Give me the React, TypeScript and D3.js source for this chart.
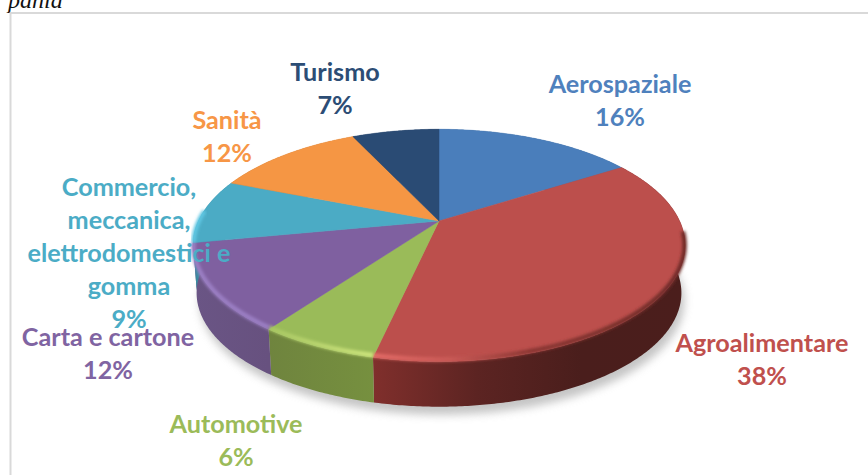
import * as d3 from "d3";

const categories = ["Aerospaziale", "Agroalimentare", "Automotive", "Carta e cartone", "Commercio", "Sanità", "Turismo"];
// slice sizes, the labels below show them rounded
const shares = [16, 37.5, 6.5, 12, 9, 12, 7];

const labelLines = [
  ["Aerospaziale", "16%"],
  ["Agroalimentare", "38%"],
  ["Automotive", "6%"],
  ["Carta e cartone", "12%"],
  ["Commercio,", "meccanica,", "elettrodomestici e", "gomma", "9%"],
  ["Sanità", "12%"],
  ["Turismo", "7%"],
];

const topColors = ["#4a7ebb", "#bc4f4c", "#9abb59", "#7f60a0", "#4babc5", "#f59644", "#2a4b74"];
const labelColors = ["#4f81bd", "#c0504d", "#9bbb59", "#8064a2", "#4bacc6", "#f79646", "#2c4d75"];
// side wall and bevel colours per slice, spread evenly over the slice's width
const wallColors = [
  ["#3a5f8c", "#3a5f8c"],
  ["#802f2c", "#5c2422", "#4a1e1c", "#4b1e1c"],
  ["#6f843e", "#76903f"],
  ["#6a5585", "#67517f"],
  ["#3a8aa0", "#3a8aa0"],
  ["#b06a2c", "#b06a2c"],
  ["#1f3a5a", "#1f3a5a"],
];
const bevelColors = [
  ["#3f6ca3", "#3f6ca3"],
  ["#e46b67", "#c95a56", "#8a3632", "#7a302c", "#6e2b28"],
  ["#a8c763", "#cfe67e"],
  ["#9b7fc4", "#9b7fc4"],
  ["#5fc6e2", "#5fc6e2"],
  ["#f59644", "#f59644"],
  ["#2a4b74", "#2a4b74"],
];

const labelAnchors = [
  [620, 93],
  [762, 352],
  [236, 433],
  [108, 346],
  [129, 196],
  [227, 129],
  [335, 81],
];

const width = 868;
const height = 475;
const cx = 439;
const cy = 221;
const radiusX = 240.6;
const radiusY = 111;
const tilt = 0.21;
const step = 0.01;

// perspective projection of a point on the pie's rim
const rimPoint = (a: number): [number, number] => {
  const u = Math.sin(a);
  const v = -Math.cos(a);
  const s = 1 / (1 - tilt * v);
  return [cx + radiusX * u * s, cy + radiusY * v * s];
};
const lowerPoint = (a: number): [number, number] => {
  const [x, y] = rimPoint(a);
  return [cx + (x - cx) * 0.985, cy + (y - cy) * 0.98 + 48];
};
// just inside the rim, where the highlight sits
const bevelPoint = (a: number): [number, number] => {
  const [x, y] = rimPoint(a);
  return [cx + (x - cx) * 0.998, cy + (y - cy) * 0.985];
};

const angles = (start: number, end: number) => [...d3.range(start, end, step), end];
const line = d3.line();

const pie = d3.pie<number>().sort(null).value((d) => d);
const slices = pie(shares);

const Gradient = ({ id, x0, x1, colors }: { id: string; x0: number; x1: number; colors: string[] }) => (
  <linearGradient id={id} gradientUnits="userSpaceOnUse" x1={x0} x2={x1} y1={0} y2={0}>
    {colors.map((c, j) => (
      <stop key={j} offset={j / (colors.length - 1)} stopColor={c} />
    ))}
  </linearGradient>
);

const App = () => (
  <svg width={width} height={height} style={{ position: "absolute", left: 0, top: 0 }}>
    <defs>
      <filter id="shadowBlur" x="-10%" y="-10%" width="120%" height="120%">
        <feGaussianBlur stdDeviation="4.5" />
      </filter>
      <filter id="bevelBlur" x="-20%" y="-20%" width="140%" height="140%">
        <feGaussianBlur stdDeviation="1.5" />
      </filter>
      {slices.map((s, i) => {
        const xs = angles(s.startAngle, s.endAngle).map((a) => rimPoint(a)[0]);
        const [x0, x1] = d3.extent(xs) as [number, number];
        return (
          <g key={categories[i]}>
            <Gradient id={`wall${i}`} x0={x0} x1={x1} colors={wallColors[i]} />
            <Gradient id={`bevel${i}`} x0={x0} x1={x1} colors={bevelColors[i]} />
          </g>
        );
      })}
    </defs>

    {/* page text cut off above the frame */}
    <text x={8} y={8} fontFamily="'Liberation Serif', serif" fontStyle="italic" fontSize={24} fill="#111">
      pania
    </text>
    <path d={`M10.5,${height}V13H${width}`} fill="none" stroke="#d9d9d9" strokeWidth={2} />

    <path
      d={line(angles(0, 2 * Math.PI).map(lowerPoint))! + "Z"}
      transform="translate(3,8)"
      fill="#a6a6a6"
      opacity={0.65}
      filter="url(#shadowBlur)"
    />

    {slices.map((s, i) => {
      const top = angles(s.startAngle, s.endAngle);
      return (
        <path
          key={categories[i]}
          d={line([...top.map(rimPoint), ...top.slice().reverse().map(lowerPoint)])! + "Z"}
          fill={`url(#wall${i})`}
        />
      );
    })}

    {slices.map((s, i) => (
      <path
        key={categories[i]}
        d={line([[cx, cy], ...angles(s.startAngle, s.endAngle).map(rimPoint)])! + "Z"}
        fill={topColors[i]}
        stroke={topColors[i]}
        strokeWidth={0.5}
      />
    ))}

    {/* soft highlight along the front rim */}
    {slices.map((s, i) => {
      const start = Math.max(s.startAngle, Math.PI * 0.53);
      const end = Math.min(s.endAngle, Math.PI * 1.53);
      if (start >= end) return null;
      return (
        <path
          key={categories[i]}
          d={line(angles(start, end).map(bevelPoint))!}
          fill="none"
          stroke={`url(#bevel${i})`}
          strokeWidth={4.5}
          filter="url(#bevelBlur)"
        />
      );
    })}

    {labelLines.map((lines, i) => (
      <text
        key={categories[i]}
        x={labelAnchors[i][0]}
        y={labelAnchors[i][1]}
        textAnchor="middle"
        fontFamily="Lato, sans-serif"
        fontWeight={700}
        fontSize={25.2}
        fill={labelColors[i]}
      >
        {lines.map((t, j) => (
          <tspan key={t} x={labelAnchors[i][0]} dy={j === 0 ? 0 : 33}>
            {t}
          </tspan>
        ))}
      </text>
    ))}
  </svg>
);

export default App;
